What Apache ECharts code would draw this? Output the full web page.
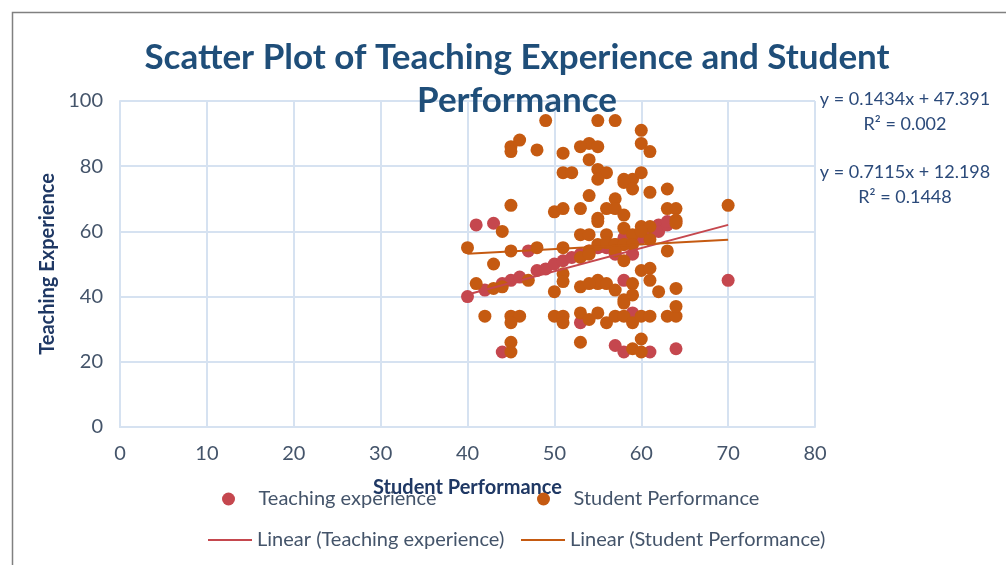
<!DOCTYPE html>
<html><head><meta charset="utf-8">
<script src="https://cdn.jsdelivr.net/npm/echarts@6/dist/echarts.min.js"></script>
<style>html,body{margin:0;padding:0;background:#fff}#c{width:1006px;height:565px}</style>
</head><body><div id="c"></div>
<script>
// ---- data ----
const teachingExperience = [
  [40,40],[41,62],[42,42],[43,62.5],[44,44],[44,23],[45,45],[46,46],[47,54],[48,48],
  [49,48.5],[50,50],[51,51],[52,52],[53,53],[53,32],[54,54],[55,55],[56,55],[57,56],
  [57,53],[57,25],[58,23],[58,45],[58,56],[58,58],[59,57],[59,53],[59,35],[60,58],[61,59],
  [61,23],[62,62],[62,60],[63,62],[63,63],[64,63],[64,24],[70,45]
];
const studentPerformance = [
  [49,94],[55,94],[57,94],[60,91],[60,87],[61,84.5],[54,87],[55,86],[53,86],[46,88],
  [45,86],[45,84.5],[48,85],[51,84],[54,82],[51,78],[52,78],[55,79],[56,78],[55,76],
  [58,76],[59,76],[60,78],[58,75],[59,73],[61,72],[63,73],[54,71],[57,70],[45,68],
  [50,66],[51,67],[53,67],[56,67],[57,67],[58,65],[55,64],[63,67],[64,67],[70,68],[64,63.5],
  [44,60],[40,55],[45,54],[48,55],[51,55],[53,59],[54,59],[53,52],[54,54],[43,50],
  [55,63],[58,61],[60,61.5],[61,61.5],[64,62.5],[56,59],[59,59],[60,60],[55,56],[56,56.5],
  [57,56],[58,56],[59,56],[61,57.5],[57,54],[58,51],[63,54],[54,53],[60,48],[61,48.7],[61,45],
  [41,44],[43,42.5],[44,43],[47,45],[51,47],[51,44.6],[50,41.5],[53,43],[55,44],[55,45],
  [56,44],[57,42],[58,39],[59,44],[59,40.5],[62,41.5],[64,42.5],[54,44],
  [42,34],[45,34],[46,34],[45,32],[50,34],[51,34],[51,32],[53,35],[54,33],[53,26],[45,26],
  [45,23],[55,35],[56,32],[57,34],[58,34],[59,32],[60,34],[61,34],[63,34],[64,34],[64,37],
  [58,38],[60,27],[59,24],[60,23]
];
// trendline coefficients as shown on the chart: [slope, intercept, R²]
const trendTeaching = [0.7115, 12.198, 0.1448];
const trendStudent = [0.1434, 47.391, 0.002];
const trendRange = [40, 70];
const seriesNames = ['Teaching experience', 'Student Performance'];

const RED = '#C5474E', ORANGE = '#C55A11';
const FONT = 'Lato';
const line = (t) => trendRange.map(x => [x, t[0] * x + t[1]]);
const eq = (t) => 'y = ' + t[0] + 'x + ' + t[1] + '\nR² = ' + t[2];

const chart = echarts.init(document.getElementById('c'));
const legTxt = {color: '#44546A', fontSize: 20, fontFamily: FONT};
chart.setOption({
  animation: false,
  backgroundColor: '#fff',
  title: {
    text: 'Scatter Plot of Teaching Experience and Student\nPerformance',
    left: 512, top: 31, textAlign: 'center',
    textStyle: {color: '#1F4E79', fontSize: 35, fontWeight: 'bold', fontFamily: FONT, lineHeight: 43}
  },
  grid: {left: 120, right: 191, top: 101, bottom: 138},
  xAxis: {
    type: 'value', min: 0, max: 80, interval: 10,
    name: 'Student Performance', nameLocation: 'middle', nameGap: 51,
    nameTextStyle: {color: '#1F3864', fontSize: 20, fontWeight: 'bold', fontFamily: FONT},
    axisLine: {show: true, lineStyle: {color: '#D6E2F1', width: 2}},
    axisTick: {show: false},
    axisLabel: {color: '#44546A', fontSize: 20, fontFamily: FONT, margin: 17},
    splitLine: {show: true, lineStyle: {color: '#D6E2F1', width: 2}}
  },
  yAxis: {
    type: 'value', min: 0, max: 100, interval: 20,
    name: 'Teaching Experience', nameLocation: 'middle', nameGap: 62,
    nameTextStyle: {color: '#1F3864', fontSize: 20, fontWeight: 'bold', fontFamily: FONT},
    axisLine: {show: true, lineStyle: {color: '#D6E2F1', width: 2}},
    axisTick: {show: false},
    axisLabel: {color: '#44546A', fontSize: 20, fontFamily: FONT, margin: 17},
    splitLine: {show: true, lineStyle: {color: '#D6E2F1', width: 2}}
  },
  legend: [
    {data: [seriesNames[0]], left: 222, top: 489, padding: 0, itemWidth: 50, itemHeight: 13, textStyle: legTxt},
    {data: [seriesNames[1]], left: 537, top: 489, padding: 0, itemWidth: 50, itemHeight: 13, textStyle: legTxt},
    {data: ['Linear (' + seriesNames[0] + ')'], left: 208, top: 530, padding: 0, icon: 'rect', itemWidth: 44, itemHeight: 2, textStyle: legTxt},
    {data: ['Linear (' + seriesNames[1] + ')'], left: 521, top: 530, padding: 0, icon: 'rect', itemWidth: 44, itemHeight: 2, textStyle: legTxt}
  ],
  series: [
    {name: seriesNames[0], type: 'scatter', data: teachingExperience, symbolSize: 13, itemStyle: {color: RED, opacity: 1}},
    {name: seriesNames[1], type: 'scatter', data: studentPerformance, symbolSize: 13, itemStyle: {color: ORANGE, opacity: 1}},
    {name: 'Linear (' + seriesNames[0] + ')', type: 'line', data: line(trendTeaching), symbol: 'none', lineStyle: {color: RED, width: 2}, itemStyle: {color: RED}},
    {name: 'Linear (' + seriesNames[1] + ')', type: 'line', data: line(trendStudent), symbol: 'none', lineStyle: {color: ORANGE, width: 2}, itemStyle: {color: ORANGE}}
  ],
  graphic: [
    {type: 'rect', shape: {x: 12.5, y: 12.5, width: 1010, height: 570}, style: {fill: 'none', stroke: '#808080', lineWidth: 1.5}, silent: true},
    {type: 'text', x: 905, y: 87, style: {text: eq(trendStudent), textAlign: 'center', textVerticalAlign: 'top', fill: '#2B4A7A', font: '18px ' + FONT, lineHeight: 25}},
    {type: 'text', x: 905, y: 160, style: {text: eq(trendTeaching), textAlign: 'center', textVerticalAlign: 'top', fill: '#2B4A7A', font: '18px ' + FONT, lineHeight: 25}}
  ]
});
</script></body></html>
